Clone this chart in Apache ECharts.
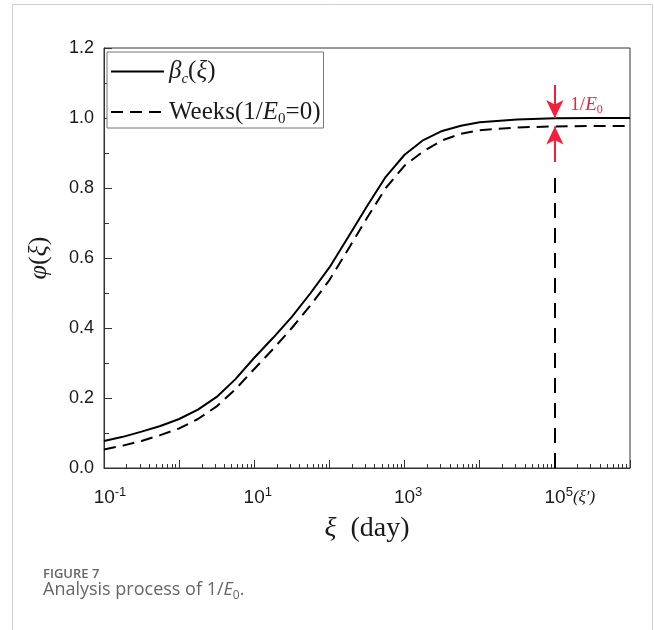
<!DOCTYPE html>
<html>
<head>
<meta charset="utf-8">
<script src="https://cdn.jsdelivr.net/npm/echarts@6/dist/echarts.min.js"></script>
<style>
html,body{margin:0;padding:0;background:#fff;}
#chart{width:654px;height:630px;}
</style>
</head>
<body>
<div id="chart"></div>
<script>
// ---- data ----
const xiValues = [0.1, 0.178, 0.316, 0.562, 1, 1.78, 3.16, 5.62, 10, 17.8, 31.6, 56.2, 100, 178, 316, 562,
                  1000, 1778, 3162, 5623, 10000, 31623, 100000, 316228, 1000000];
const betaC = [0.077, 0.089, 0.104, 0.120, 0.140, 0.167, 0.203, 0.254, 0.315, 0.372, 0.432, 0.500, 0.573, 0.660, 0.748, 0.832,
               0.895, 0.937, 0.963, 0.978, 0.988, 0.996, 0.999, 1.0, 1.0];
const weeks = [0.053, 0.064, 0.077, 0.094, 0.113, 0.140, 0.176, 0.225, 0.283, 0.340, 0.400, 0.465, 0.537, 0.625, 0.714, 0.800,
               0.864, 0.905, 0.936, 0.955, 0.965, 0.973, 0.976, 0.977, 0.977];
const seriesNames = ['βc(ξ)', 'Weeks(1/E0=0)'];
const yTicks = ['0.0', '0.2', '0.4', '0.6', '0.8', '1.0', '1.2'];
const xiPrime = 100000;          // ξ′ marker position
const gapTop = 1.0;              // βc asymptote
const gapBottom = 0.976;         // Weeks asymptote
const downArrowFrom = 1.094;
const upArrowFrom = 0.874;
const dropLineTop = 0.83;
const gapLabelY = 1.037;

const serif = 'Liberation Serif';
const sans = 'Liberation Sans';
const red = '#F2203C';
const ink = '#1a1a1a';

const ctx = document.createElement('canvas').getContext('2d');
function tw(text, font){ ctx.font = font; return ctx.measureText(text).width; }

const chart = echarts.init(document.getElementById('chart'), null, {renderer:'canvas'});

const legendRich = {
  n:{fontFamily:serif, fontSize:25, lineHeight:30, color:ink},
  i:{fontFamily:serif, fontSize:25, lineHeight:30, fontStyle:'italic', color:ink},
  sub:{fontFamily:serif, fontSize:15, lineHeight:15, verticalAlign:'bottom', color:ink},
  subi:{fontFamily:serif, fontSize:15, lineHeight:15, verticalAlign:'bottom', fontStyle:'italic', color:ink}
};
const legendText = {};
legendText[seriesNames[0]] = '{i|β}{subi|c}{n|(}{i|ξ}{n|)}';
legendText[seriesNames[1]] = '{n|Weeks(1/}{i|E}{sub|0}{n|=0)}';

function xLabel(v){
  const e = Math.round(Math.log10(v));
  if (e % 2 === 0) return '';
  let w = tw(String(e), '13px ' + sans);
  let tail = '{s|' + e + '}';
  if (e === 5) {
    w += tw('(ξ′)', 'italic 17px ' + serif);
    tail += '{x|(ξ′)}';
  }
  return '{pad' + Math.round(w) + '|}{b|10}' + tail;
}
const xRich = {
  b:{fontFamily:sans, fontSize:19, lineHeight:23, color:ink},
  s:{fontFamily:sans, fontSize:13, lineHeight:13, verticalAlign:'top', color:ink},
  x:{fontFamily:serif, fontSize:17, lineHeight:23, fontStyle:'italic', color:ink}
};
for (let w = 0; w <= 60; w++) xRich['pad' + w] = {width:w, height:1};

const option = {
  animation:false,
  backgroundColor:'#fff',
  grid:{left:104, right:24, top:48, bottom:162, show:true, borderColor:'#333', borderWidth:1, backgroundColor:'transparent'},
  legend:{
    data:seriesNames, orient:'vertical', left:107, top:52,
    itemWidth:53, itemHeight:14, itemGap:13,
    padding:[7, 3, 1, 3], borderColor:'#777', borderWidth:1, backgroundColor:'#fff',
    itemStyle:{opacity:0},
    textStyle:{rich:legendRich},
    formatter:function(name){ return legendText[name]; }
  },
  xAxis:{
    type:'log', logBase:10, min:0.1, max:1000000, interval:1, splitNumber:7,
    axisLine:{lineStyle:{color:'#333', width:1}},
    axisTick:{inside:true, length:8, lineStyle:{color:'#333'}},
    minorTick:{show:true, splitNumber:9, length:4, lineStyle:{color:'#333'}},
    splitLine:{show:false}, minorSplitLine:{show:false},
    axisLabel:{margin:18, formatter:xLabel, rich:xRich, showMinLabel:true, showMaxLabel:true},
    name:'{i|ξ}{n|  (day)}', nameLocation:'middle', nameGap:47,
    nameTextStyle:{rich:{
      i:{fontFamily:serif, fontSize:28, fontStyle:'italic', color:ink},
      n:{fontFamily:serif, fontSize:28, color:ink}
    }}
  },
  yAxis:{
    type:'value', min:0, max:1.2, interval:0.2,
    axisLine:{show:true, lineStyle:{color:'#333', width:1}},
    axisTick:{show:true, inside:true, length:8, lineStyle:{color:'#333'}},
    minorTick:{show:true, splitNumber:2, length:5, lineStyle:{color:'#333'}},
    splitLine:{show:false},
    axisLabel:{margin:10, fontFamily:sans, fontSize:18, color:ink,
      formatter:function(v){ return yTicks[Math.round(v / 0.2)]; }},
    name:'{i|φ}{n|(}{i|ξ}{n|)}', nameLocation:'middle', nameGap:52,
    nameTextStyle:{rich:{
      i:{fontFamily:serif, fontSize:26, fontStyle:'italic', color:ink},
      n:{fontFamily:serif, fontSize:26, color:ink}
    }}
  },
  series:[
    {
      name:seriesNames[0], type:'line', symbol:'none', smooth:false,
      data:xiValues.map((x, i) => [x, betaC[i]]),
      lineStyle:{color:'#000', width:2, join:'round'}, itemStyle:{color:'#000'}, z:3
    },
    {
      name:seriesNames[1], type:'line', symbol:'none', smooth:false,
      data:xiValues.map((x, i) => [x, weeks[i]]),
      lineStyle:{color:'#000', width:2, type:[12, 7], join:'round'}, itemStyle:{color:'#000'}, z:3,
      markLine:{
        silent:true, symbol:['none','none'], label:{show:false}, animation:false,
        data:[
          [{coord:[xiPrime, 0], symbol:'none', lineStyle:{color:'#000', width:2, type:[15, 10]}},
           {coord:[xiPrime, dropLineTop], symbol:'none'}],
          [{coord:[xiPrime, downArrowFrom], symbol:'none', lineStyle:{color:red, width:2, type:'solid'}},
           {coord:[xiPrime, gapTop], symbol:'arrow', symbolSize:[13, 18]}],
          [{coord:[xiPrime, upArrowFrom], symbol:'none', lineStyle:{color:red, width:2, type:'solid'}},
           {coord:[xiPrime, gapBottom], symbol:'arrow', symbolSize:[13, 18]}]
        ]
      },
      markPoint:{
        silent:true, symbol:'circle', symbolSize:1, itemStyle:{color:'rgba(0,0,0,0)'},
        data:[{coord:[xiPrime, gapLabelY]}],
        label:{show:true, position:'right', distance:15,
          formatter:'{n|1/}{i|E}{s|0}',
          rich:{
            n:{fontFamily:serif, fontSize:19, lineHeight:22, color:red},
            i:{fontFamily:serif, fontSize:19, lineHeight:22, fontStyle:'italic', color:red},
            s:{fontFamily:serif, fontSize:12, lineHeight:12, verticalAlign:'bottom', color:red}
          }}
      }
    }
  ],
  graphic:[
    {type:'polyline', silent:true, shape:{points:[[12.5,640],[12.5,4.5],[652.5,4.5],[652.5,640]]},
     style:{stroke:'#cfcfcf', lineWidth:1, fill:null}},
    {type:'text', left:43, top:568, silent:true,
     style:{text:'FIGURE 7', font:'600 13px "Open Sans"', fill:'#666'}},
    {type:'text', left:43, top:581, silent:true,
     style:{text:'{a|Analysis process of 1/}{i|E}{s|0}{a|.}', fill:'#666',
       rich:{
         a:{fontFamily:'Open Sans', fontSize:18, lineHeight:23, fill:'#666'},
         i:{fontFamily:'Open Sans', fontSize:18, lineHeight:23, fontStyle:'italic', fill:'#666'},
         s:{fontFamily:'Open Sans', fontSize:12, lineHeight:12, verticalAlign:'bottom', fill:'#666'}
       }}}
  ]
};
chart.setOption(option);
</script>
</body>
</html>
